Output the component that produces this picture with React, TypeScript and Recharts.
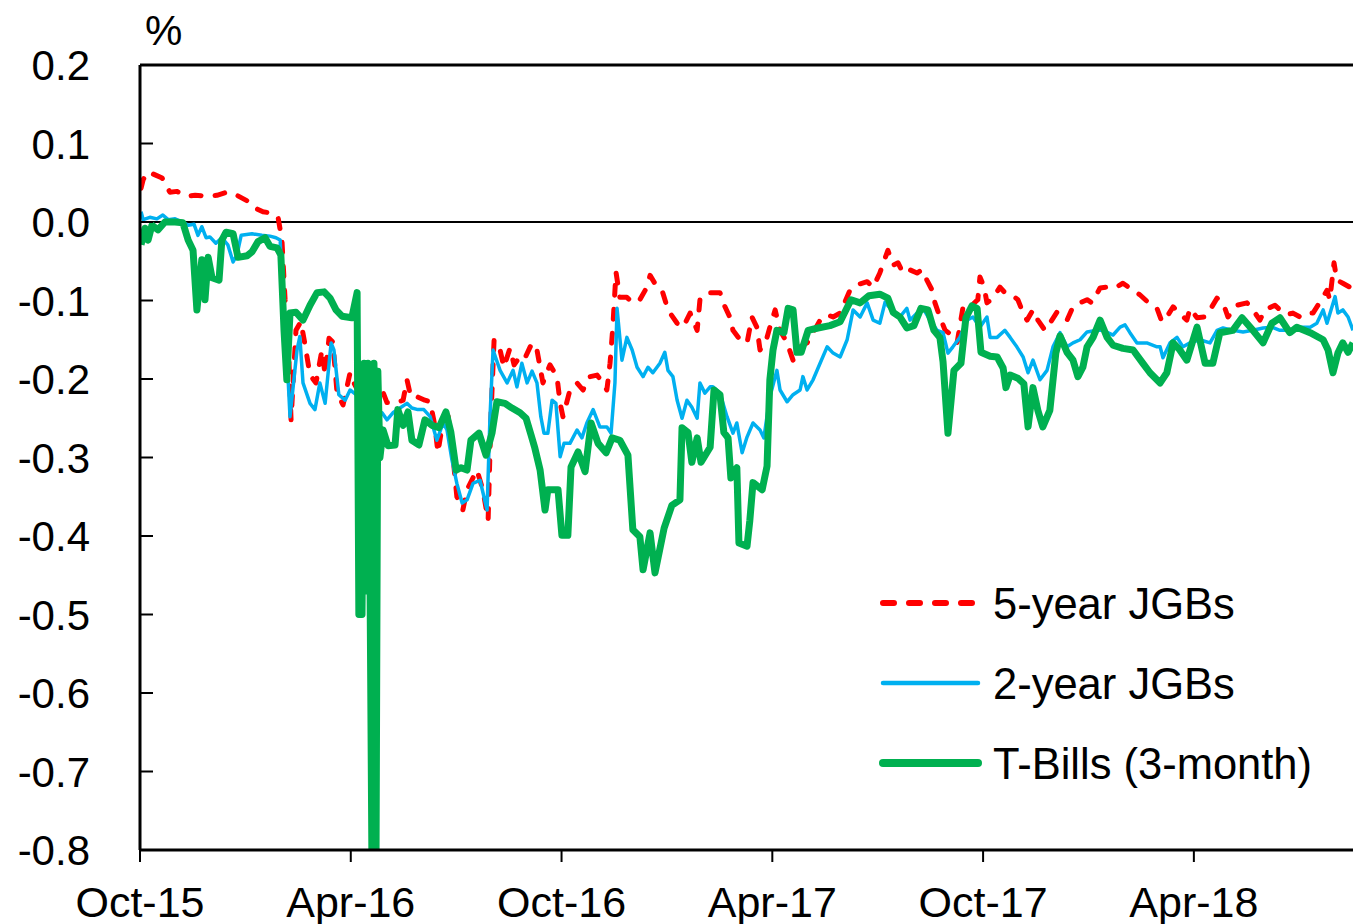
import React from "react";
import { LineChart, Line, XAxis, YAxis, ReferenceLine } from "recharts";

// x = months since Oct-15, y = yield (%)
const FIVE_YEAR: [number, number][] = [
  [0.03, 0.043], [0.09, 0.054], [0.23, 0.064], [0.43, 0.06], [0.63, 0.056], [0.85, 0.038],
  [1.05, 0.039], [1.34, 0.033], [1.57, 0.034], [1.91, 0.033], [2.19, 0.034], [2.48, 0.038],
  [2.76, 0.034], [3.05, 0.027], [3.22, 0.019], [3.5, 0.013], [3.79, 0.011], [3.93, 0.006],
  [4.04, -0.023], [4.13, -0.099], [4.21, -0.138], [4.3, -0.252], [4.44, -0.138], [4.58, -0.127],
  [4.7, -0.157], [4.84, -0.195], [5.01, -0.205], [5.18, -0.163], [5.27, -0.195], [5.38, -0.148],
  [5.49, -0.153], [5.61, -0.218], [5.78, -0.233], [5.98, -0.192], [6.09, -0.205], [6.26, -0.22],
  [6.49, -0.227], [6.69, -0.22], [6.86, -0.21], [7.03, -0.23], [7.32, -0.23], [7.49, -0.227],
  [7.6, -0.201], [7.71, -0.223], [7.91, -0.223], [8.11, -0.227], [8.26, -0.229], [8.4, -0.261],
  [8.48, -0.294], [8.63, -0.252], [8.74, -0.236], [8.91, -0.299], [9.02, -0.35], [9.19, -0.367],
  [9.31, -0.341], [9.59, -0.316], [9.76, -0.341], [9.91, -0.38], [9.99, -0.248], [10.08, -0.15],
  [10.25, -0.163], [10.36, -0.185], [10.53, -0.161], [10.65, -0.182], [10.79, -0.173], [10.93, -0.176],
  [11.16, -0.154], [11.3, -0.163], [11.47, -0.205], [11.67, -0.182], [11.87, -0.197], [11.96, -0.231],
  [12.04, -0.248], [12.24, -0.214], [12.44, -0.205], [12.61, -0.214], [12.81, -0.197], [13.01, -0.195],
  [13.18, -0.205], [13.29, -0.214], [13.38, -0.18], [13.46, -0.134], [13.55, -0.064], [13.66, -0.096],
  [13.86, -0.096], [14.03, -0.103], [14.23, -0.099], [14.43, -0.083], [14.52, -0.068], [14.72, -0.083],
  [14.86, -0.087], [14.97, -0.103], [15.09, -0.116], [15.29, -0.129], [15.46, -0.134], [15.66, -0.116],
  [15.86, -0.138], [15.94, -0.099], [16.14, -0.09], [16.31, -0.09], [16.51, -0.09], [16.6, -0.103],
  [16.79, -0.121], [16.88, -0.138], [17.08, -0.15], [17.28, -0.154], [17.42, -0.121], [17.56, -0.134],
  [17.65, -0.163], [17.85, -0.147], [17.93, -0.134], [18.08, -0.112], [18.22, -0.138], [18.42, -0.154],
  [18.59, -0.176], [18.79, -0.159], [18.99, -0.154], [19.16, -0.141], [19.36, -0.125], [19.56, -0.118],
  [19.73, -0.121], [19.93, -0.116], [20.21, -0.087], [20.41, -0.08], [20.7, -0.076], [20.87, -0.083],
  [21.06, -0.065], [21.29, -0.036], [21.44, -0.055], [21.58, -0.052], [21.72, -0.065], [21.92, -0.061],
  [22.12, -0.065], [22.26, -0.061], [22.4, -0.074], [22.55, -0.087], [22.63, -0.103], [22.77, -0.121],
  [22.92, -0.138], [23.11, -0.144], [23.26, -0.154], [23.43, -0.108], [23.63, -0.108], [23.85, -0.099],
  [23.91, -0.07], [24.03, -0.083], [24.11, -0.103], [24.28, -0.097], [24.48, -0.083], [24.62, -0.09],
  [24.82, -0.093], [24.99, -0.099], [25.14, -0.116], [25.25, -0.125], [25.42, -0.112], [25.56, -0.125],
  [25.76, -0.138], [25.9, -0.129], [26.1, -0.115], [26.25, -0.118], [26.39, -0.125], [26.56, -0.108],
  [26.76, -0.103], [26.96, -0.099], [27.1, -0.103], [27.33, -0.084], [27.53, -0.083], [27.75, -0.084],
  [27.98, -0.078], [28.27, -0.087], [28.47, -0.093], [28.69, -0.102], [28.95, -0.11], [29.09, -0.127],
  [29.23, -0.121], [29.41, -0.108], [29.55, -0.115], [29.8, -0.125], [29.89, -0.11], [30.09, -0.122],
  [30.32, -0.121], [30.46, -0.112], [30.66, -0.097], [30.83, -0.103], [30.97, -0.121], [31.23, -0.106],
  [31.51, -0.103], [31.68, -0.112], [31.88, -0.125], [32.02, -0.112], [32.31, -0.106], [32.45, -0.112],
  [32.65, -0.118], [32.82, -0.116], [33.02, -0.121], [33.22, -0.116], [33.39, -0.116], [33.59, -0.102],
  [33.79, -0.087], [33.87, -0.099], [33.99, -0.052], [34.07, -0.074], [34.24, -0.078], [34.44, -0.083],
  [34.53, -0.096],
];

const TWO_YEAR: [number, number][] = [
  [0.03, 0.013], [0.09, 0.003], [0.28, 0.006], [0.48, 0.004], [0.65, 0.009], [0.8, 0.003],
  [1.0, 0.004], [1.2, 0.0], [1.37, -0.004], [1.54, -0.003], [1.65, -0.017], [1.76, -0.006],
  [1.88, -0.02], [1.99, -0.019], [2.16, -0.027], [2.33, -0.02], [2.5, -0.029], [2.65, -0.051],
  [2.76, -0.042], [2.88, -0.017], [3.19, -0.015], [3.47, -0.017], [3.7, -0.018], [3.87, -0.02],
  [3.99, -0.023], [4.07, -0.099], [4.16, -0.15], [4.27, -0.248], [4.47, -0.163], [4.55, -0.146],
  [4.64, -0.205], [4.84, -0.231], [4.98, -0.239], [5.12, -0.205], [5.27, -0.231], [5.44, -0.154],
  [5.52, -0.163], [5.66, -0.22], [5.84, -0.227], [5.98, -0.214], [6.15, -0.22], [6.4, -0.233],
  [6.69, -0.242], [6.89, -0.243], [7.03, -0.252], [7.2, -0.243], [7.4, -0.237], [7.6, -0.231],
  [7.74, -0.237], [7.91, -0.239], [8.08, -0.239], [8.26, -0.248], [8.45, -0.278], [8.63, -0.256],
  [8.74, -0.265], [8.88, -0.303], [9.02, -0.333], [9.17, -0.358], [9.31, -0.354], [9.48, -0.333],
  [9.68, -0.329], [9.88, -0.367], [9.96, -0.252], [10.05, -0.163], [10.25, -0.189], [10.45, -0.205],
  [10.62, -0.189], [10.73, -0.21], [10.87, -0.18], [11.02, -0.205], [11.16, -0.19], [11.3, -0.205],
  [11.41, -0.248], [11.5, -0.269], [11.61, -0.269], [11.73, -0.227], [11.84, -0.231], [11.96, -0.299],
  [12.07, -0.282], [12.24, -0.282], [12.44, -0.265], [12.58, -0.275], [12.72, -0.256], [12.9, -0.239],
  [13.09, -0.261], [13.29, -0.261], [13.41, -0.269], [13.52, -0.205], [13.58, -0.11], [13.72, -0.176],
  [13.86, -0.147], [14.01, -0.163], [14.15, -0.185], [14.32, -0.197], [14.46, -0.185], [14.6, -0.192],
  [14.8, -0.18], [14.94, -0.166], [15.03, -0.189], [15.17, -0.197], [15.29, -0.227], [15.43, -0.25],
  [15.57, -0.227], [15.71, -0.236], [15.86, -0.25], [15.94, -0.205], [16.08, -0.218], [16.23, -0.21],
  [16.31, -0.21], [16.51, -0.218], [16.71, -0.248], [16.88, -0.269], [16.99, -0.256], [17.14, -0.294],
  [17.28, -0.274], [17.45, -0.256], [17.65, -0.265], [17.76, -0.275], [17.93, -0.223], [18.13, -0.189],
  [18.22, -0.214], [18.42, -0.229], [18.59, -0.22], [18.79, -0.214], [18.87, -0.197], [18.99, -0.214],
  [19.16, -0.201], [19.36, -0.18], [19.56, -0.159], [19.73, -0.167], [19.93, -0.172], [20.13, -0.15],
  [20.3, -0.112], [20.5, -0.121], [20.7, -0.103], [20.87, -0.125], [21.06, -0.129], [21.21, -0.102],
  [21.44, -0.115], [21.63, -0.121], [21.83, -0.11], [21.92, -0.125], [22.12, -0.116], [22.29, -0.11],
  [22.49, -0.125], [22.69, -0.138], [22.86, -0.141], [23.0, -0.167], [23.14, -0.159], [23.34, -0.147],
  [23.54, -0.125], [23.71, -0.121], [23.91, -0.134], [24.11, -0.121], [24.2, -0.147], [24.4, -0.147],
  [24.62, -0.138], [24.77, -0.147], [24.96, -0.159], [25.14, -0.172], [25.28, -0.192], [25.42, -0.176],
  [25.62, -0.201], [25.82, -0.189], [25.99, -0.159], [26.19, -0.141], [26.39, -0.159], [26.56, -0.154],
  [26.76, -0.15], [26.96, -0.14], [27.24, -0.138], [27.41, -0.138], [27.7, -0.144], [27.9, -0.134],
  [28.04, -0.131], [28.18, -0.141], [28.38, -0.154], [28.66, -0.154], [28.95, -0.159], [29.04, -0.159],
  [29.12, -0.173], [29.32, -0.154], [29.52, -0.147], [29.69, -0.159], [29.89, -0.154], [30.17, -0.15],
  [30.46, -0.154], [30.66, -0.138], [30.83, -0.135], [31.11, -0.138], [31.4, -0.14], [31.68, -0.138],
  [31.97, -0.135], [32.22, -0.134], [32.45, -0.138], [32.73, -0.138], [33.02, -0.134], [33.31, -0.134],
  [33.5, -0.129], [33.68, -0.112], [33.79, -0.129], [34.02, -0.095], [34.1, -0.116], [34.24, -0.112],
  [34.39, -0.121], [34.53, -0.138],
];

const T_BILLS: [number, number][] = [
  [0.03, -0.029], [0.14, -0.008], [0.23, -0.023], [0.34, -0.004], [0.51, -0.01], [0.71, 0.0],
  [1.0, 0.0], [1.22, -0.001], [1.37, -0.023], [1.51, -0.036], [1.62, -0.112], [1.76, -0.048],
  [1.85, -0.099], [1.94, -0.045], [2.05, -0.071], [2.25, -0.074], [2.33, -0.023], [2.45, -0.013],
  [2.65, -0.015], [2.79, -0.045], [3.05, -0.043], [3.19, -0.038], [3.36, -0.025], [3.56, -0.02],
  [3.7, -0.031], [3.9, -0.033], [4.01, -0.042], [4.1, -0.138], [4.18, -0.201], [4.27, -0.116],
  [4.44, -0.115], [4.64, -0.125], [4.84, -0.106], [5.04, -0.09], [5.24, -0.089], [5.41, -0.097],
  [5.58, -0.112], [5.75, -0.12], [6.03, -0.122], [6.18, -0.09], [6.23, -0.5], [6.32, -0.5],
  [6.38, -0.18], [6.43, -0.47], [6.49, -0.18], [6.55, -0.47], [6.6, -0.8], [6.66, -0.18],
  [6.72, -0.8], [6.77, -0.19], [6.83, -0.3], [6.92, -0.265], [7.06, -0.285], [7.26, -0.284],
  [7.34, -0.239], [7.49, -0.259], [7.63, -0.242], [7.74, -0.278], [7.94, -0.284], [8.11, -0.252],
  [8.31, -0.259], [8.51, -0.262], [8.71, -0.242], [8.85, -0.268], [9.0, -0.316], [9.14, -0.313],
  [9.31, -0.316], [9.42, -0.278], [9.65, -0.269], [9.85, -0.297], [10.02, -0.269], [10.16, -0.229],
  [10.39, -0.231], [10.59, -0.237], [10.82, -0.243], [10.99, -0.25], [11.13, -0.271], [11.24, -0.288],
  [11.39, -0.316], [11.53, -0.367], [11.61, -0.341], [11.9, -0.341], [12.01, -0.399], [12.18, -0.399],
  [12.27, -0.312], [12.47, -0.293], [12.67, -0.318], [12.84, -0.256], [13.04, -0.282], [13.27, -0.294],
  [13.44, -0.275], [13.66, -0.278], [13.89, -0.297], [14.03, -0.392], [14.23, -0.401], [14.32, -0.443],
  [14.52, -0.396], [14.66, -0.447], [14.92, -0.39], [15.14, -0.361], [15.37, -0.354], [15.43, -0.262],
  [15.6, -0.268], [15.71, -0.306], [15.86, -0.275], [15.97, -0.306], [16.23, -0.287], [16.34, -0.214],
  [16.51, -0.22], [16.62, -0.268], [16.74, -0.275], [16.82, -0.326], [16.99, -0.313], [17.05, -0.409],
  [17.28, -0.413], [17.36, -0.38], [17.45, -0.332], [17.71, -0.341], [17.85, -0.311], [17.93, -0.201],
  [18.02, -0.163], [18.13, -0.138], [18.33, -0.141], [18.45, -0.11], [18.59, -0.112], [18.7, -0.166],
  [18.82, -0.166], [19.02, -0.138], [19.3, -0.135], [19.64, -0.132], [19.93, -0.127], [20.24, -0.099],
  [20.5, -0.103], [20.75, -0.094], [21.06, -0.092], [21.29, -0.097], [21.44, -0.115], [21.63, -0.121],
  [21.83, -0.135], [22.03, -0.132], [22.23, -0.11], [22.43, -0.112], [22.6, -0.138], [22.77, -0.147],
  [22.86, -0.178], [23.0, -0.269], [23.09, -0.227], [23.17, -0.189], [23.37, -0.18], [23.51, -0.122],
  [23.68, -0.107], [23.83, -0.11], [23.94, -0.166], [24.2, -0.171], [24.4, -0.172], [24.57, -0.186],
  [24.65, -0.211], [24.77, -0.195], [24.99, -0.199], [25.16, -0.206], [25.28, -0.261], [25.42, -0.211],
  [25.56, -0.24], [25.7, -0.261], [25.9, -0.24], [26.07, -0.167], [26.19, -0.145], [26.39, -0.166],
  [26.56, -0.176], [26.7, -0.197], [26.84, -0.185], [26.96, -0.159], [27.13, -0.147], [27.33, -0.125],
  [27.53, -0.147], [27.7, -0.157], [27.98, -0.161], [28.27, -0.163], [28.55, -0.18], [28.75, -0.192],
  [29.04, -0.205], [29.23, -0.192], [29.41, -0.154], [29.6, -0.163], [29.8, -0.176], [30.09, -0.134],
  [30.32, -0.18], [30.54, -0.18], [30.74, -0.141], [31.11, -0.138], [31.37, -0.122], [31.68, -0.138],
  [31.97, -0.154], [32.22, -0.129], [32.45, -0.122], [32.73, -0.141], [32.93, -0.134], [33.31, -0.141],
  [33.68, -0.15], [33.82, -0.163], [33.96, -0.192], [34.1, -0.167], [34.24, -0.154], [34.39, -0.166],
  [34.53, -0.154],
];

const X_TICKS = [0, 6, 12, 18, 24, 30];
const X_LABELS = ["Oct-15", "Apr-16", "Oct-16", "Apr-17", "Oct-17", "Apr-18"];
const Y_TICKS = [-0.8, -0.7, -0.6, -0.5, -0.4, -0.3, -0.2, -0.1, 0, 0.1, 0.2];

const SERIES = [
  { name: "5-year JGBs", data: FIVE_YEAR, color: "#ff0000", width: 5, dash: "10 14" },
  { name: "2-year JGBs", data: TWO_YEAR, color: "#00b0f0", width: 3.5, dash: undefined },
  { name: "T-Bills (3-month)", data: T_BILLS, color: "#00b050", width: 7, dash: undefined },
];

const FONT = "'Liberation Sans', Arial, sans-serif";

const toPoints = (arr: [number, number][]) => arr.map(([t, v]) => ({ t, v }));

const YTick = (props: any) => {
  const { x, y, payload } = props;
  return (
    <g>
      <line x1={x + 50} x2={x + 63} y1={y} y2={y} stroke="#000" strokeWidth={2} />
      <text x={x} y={y} dy="0.36em" textAnchor="end" fontSize={42} fontFamily={FONT} fill="#000">
        {Number(payload.value).toFixed(1)}
      </text>
    </g>
  );
};

export default function App() {
  return (
    <div style={{ position: "absolute", left: 0, top: 0, width: 1353, height: 924, background: "#fff" }}>
      <LineChart width={1353} height={924} margin={{ top: 65, right: 0, bottom: 0, left: 0 }}>
        <XAxis
          type="number"
          dataKey="t"
          domain={[0, 34.53]}
          ticks={X_TICKS}
          tickFormatter={(v: number) => X_LABELS[X_TICKS.indexOf(v)] ?? ""}
          height={74}
          axisLine={{ stroke: "#000", strokeWidth: 3 }}
          tickLine={{ stroke: "#000", strokeWidth: 2 }}
          tickSize={12}
          tickMargin={24}
          tick={{ fontSize: 43, fontFamily: FONT, fill: "#000" }}
          allowDataOverflow
        />
        <YAxis
          type="number"
          domain={[-0.8, 0.2]}
          ticks={Y_TICKS}
          width={140}
          axisLine={{ stroke: "#000", strokeWidth: 3 }}
          tickLine={false}
          tickSize={0}
          tickMargin={50}
          tick={<YTick />}
          allowDataOverflow
        />
        <ReferenceLine y={0.2} stroke="#000" strokeWidth={3} />
        <ReferenceLine y={0} stroke="#000" strokeWidth={2} />
        {SERIES.map((s) => (
          <Line
            key={s.name}
            data={toPoints(s.data)}
            dataKey="v"
            name={s.name}
            type="linear"
            stroke={s.color}
            strokeWidth={s.width}
            strokeDasharray={s.dash}
            strokeLinecap={s.dash ? "round" : "butt"}
            strokeLinejoin="round"
            dot={false}
            activeDot={false}
            isAnimationActive={false}
          />
        ))}
      </LineChart>
      <svg width={1353} height={924} style={{ position: "absolute", left: 0, top: 0, pointerEvents: "none" }}>
        <text x={145} y={45} fontSize={42} fontFamily={FONT} fill="#000">%</text>
        {SERIES.map((s, i) => {
          const cy = 603 + i * 80;
          return (
            <g key={s.name}>
              <line
                x1={883}
                x2={978}
                y1={cy}
                y2={cy}
                stroke={s.color}
                strokeWidth={s.dash ? 6 : s.width + 1}
                strokeDasharray={s.dash ? "11 15" : undefined}
                strokeLinecap="round"
              />
              <text x={993} y={cy} dy="0.36em" fontSize={43.5} fontFamily={FONT} fill="#000">
                {s.name}
              </text>
            </g>
          );
        })}
      </svg>
    </div>
  );
}
